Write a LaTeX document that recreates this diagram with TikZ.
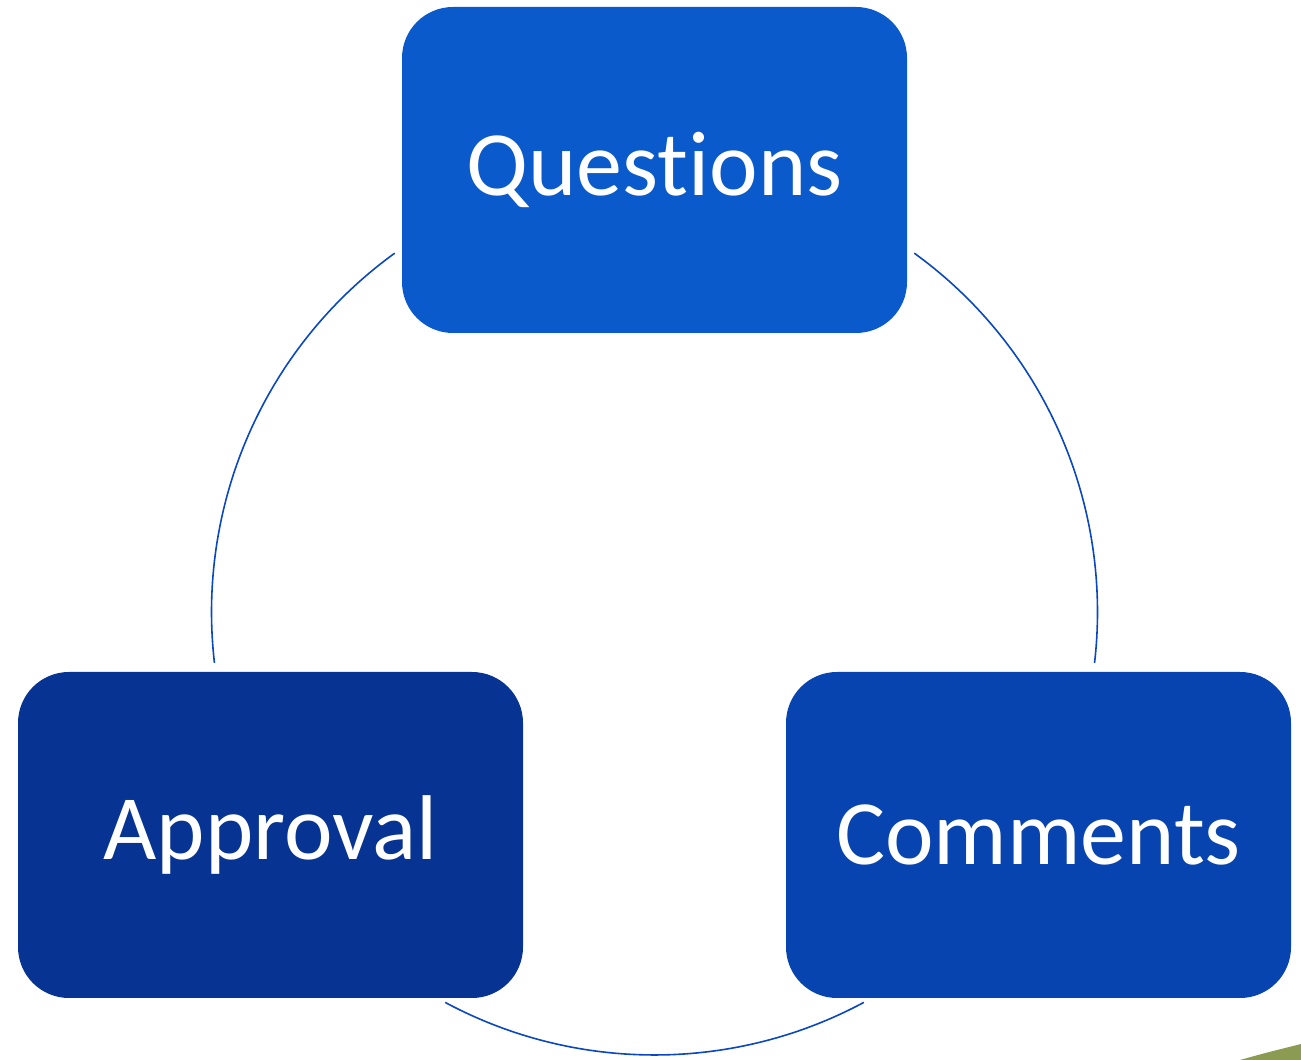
\documentclass[tikz,border=0pt]{standalone}
\usepackage{fontspec}
\setmainfont{Carlito}[Ligatures={NoCommon}]
\definecolor{qblue}{HTML}{0B5ACB}
\definecolor{cblue}{HTML}{0844AF}
\definecolor{ablue}{HTML}{073393}
\definecolor{arcblue}{HTML}{0B48BE}
\definecolor{olive}{HTML}{8B9C52}
\tikzset{
  cyclebox/.style={rectangle, rounded corners=51pt, minimum width=505pt, minimum height=326pt,
    inner sep=0pt, text=white, font=\fontsize{92}{110}\selectfont},
  cyclearc/.style={draw=arcblue, line width=1.6pt}
}
\begin{document}
\begin{tikzpicture}[x=1pt,y=1pt]
\useasboundingbox (0,0) rectangle (1301,1060);
\fill[olive] (1240,0) .. controls (1265,7) .. (1301,16) -- (1301,0) -- cycle;
\coordinate (c) at (654.5,448);
\node[cyclebox, fill=qblue] (q) at (654.5,890) {Questions};
\node[cyclebox, fill=ablue] (a) at (270.5,225) {Approval};
\node[cyclebox, fill=cblue] (m) at (1038.5,225) {Comments};
\draw[cyclearc] (c) ++(125.9:443) arc[start angle=125.9, end angle=186.6, radius=443];
\draw[cyclearc] (c) ++(54.1:443) arc[start angle=54.1, end angle=-6.6, radius=443];
\draw[cyclearc] (c) ++(241.8:443) arc[start angle=241.8, end angle=298.2, radius=443];
\end{tikzpicture}
\end{document}
